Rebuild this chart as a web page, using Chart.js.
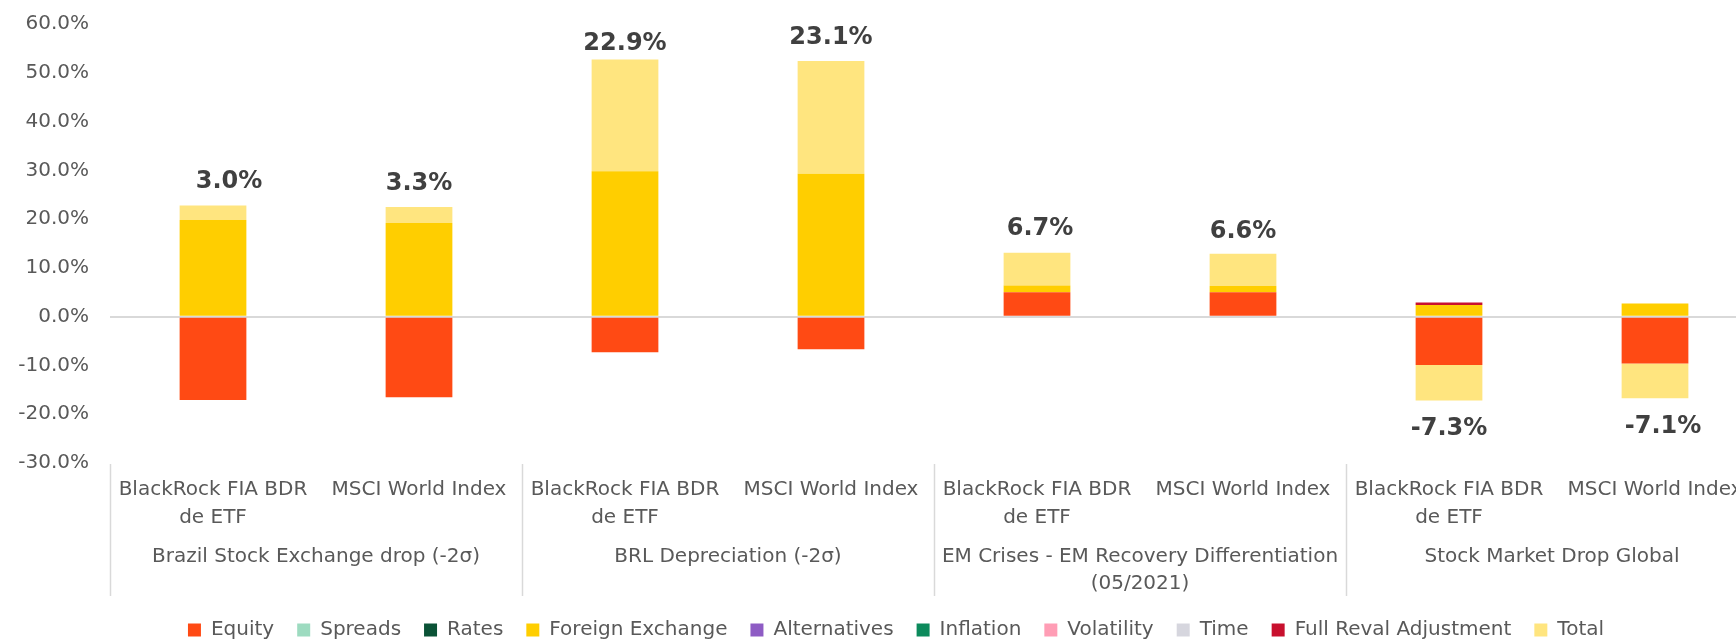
<!DOCTYPE html>
<html><head><meta charset="utf-8">
<script src="https://cdn.jsdelivr.net/npm/chart.js@4.4.1/dist/chart.umd.min.js"></script>
<style>
html,body{margin:0;padding:0;background:#fff;overflow:hidden;}
#wrap{width:1736px;height:640px;overflow:hidden;position:relative;background:#fff;}
canvas{display:block;}
</style></head><body>
<div id="wrap"><canvas id="c" width="1760" height="650"></canvas></div>
<script>
// ---- data ----
const categories = [
  ["BlackRock FIA BDR", "de ETF"], "MSCI World Index",
  ["BlackRock FIA BDR", "de ETF"], "MSCI World Index",
  ["BlackRock FIA BDR", "de ETF"], "MSCI World Index",
  ["BlackRock FIA BDR", "de ETF"], "MSCI World Index"
];
const groups = [
  "Brazil Stock Exchange drop (-2σ)",
  "BRL Depreciation (-2σ)",
  ["EM Crises - EM Recovery Differentiation", "(05/2021)"],
  "Stock Market Drop Global"
];
const seriesNames = ["Equity", "Spreads", "Rates", "Foreign Exchange", "Alternatives",
  "Inflation", "Volatility", "Time", "Full Reval Adjustment", "Total"];
const equity       = [-17.1, -16.5, -7.3, -6.7, 5.0, 5.0, -9.9, -9.6];
const spreads      = [0, 0, 0, 0, 0, 0, 0, 0];
const rates        = [0, 0, 0, 0, 0, 0, 0, 0];
const fx           = [19.8, 19.2, 29.8, 29.3, 1.4, 1.3, 2.4, 2.7];
const alternatives = [0, 0, 0, 0, 0, 0, 0, 0];
const inflation    = [0, 0, 0, 0, 0, 0, 0, 0];
const volatility   = [0, 0, 0, 0, 0, 0, 0, 0];
const time         = [0, 0, 0, 0, 0, 0, 0, 0];
const fullReval    = [0, 0, 0, 0, 0, 0, 0.5, 0];
const total        = [3.0, 3.3, 22.9, 23.1, 6.7, 6.6, -7.3, -7.1];
const yTicks = { min: -30, max: 60, step: 10 };

// ---- styles ----
const colors = ["#ff4a14", "#9ddbc0", "#0a5236", "#ffce00", "#8e5cc4",
  "#0c8a5c", "#ff9db5", "#d6d6de", "#c8102e", "#ffe57f"];
const seriesValues = [equity, spreads, rates, fx, alternatives, inflation, volatility, time, fullReval, total];
const FONT = '"DejaVu Sans", sans-serif';
const GREY = '#595959';

const datasets = seriesNames.map((name, i) => ({
  label: name,
  data: seriesValues[i],
  backgroundColor: colors[i],
  borderWidth: 0,
  barPercentage: 0.324,
  categoryPercentage: 1.0
}));

const groupAxisPlugin = {
  id: 'groupAxis',
  afterLayout(chart) {
    // centre the legend row the way the reference does
    if (chart.legend) { chart.legend.left += 34; }
  },
  afterDraw(chart, args, opts) {
    const ctx = chart.ctx, xs = chart.scales.x, area = chart.chartArea;
    const step = xs.getPixelForValue(1) - xs.getPixelForValue(0);
    ctx.save();
    ctx.strokeStyle = '#d9d9d9';
    ctx.lineWidth = 1.5;
    for (let g = 0; g <= groups.length; g++) {
      const x = Math.round(xs.getPixelForValue(g * 2) - step / 2) + 0.5;
      ctx.beginPath();
      ctx.moveTo(x, area.bottom + 1);
      ctx.lineTo(x, area.bottom + 133);
      ctx.stroke();
    }
    ctx.font = '20px ' + FONT;
    ctx.fillStyle = GREY;
    ctx.textAlign = 'center';
    ctx.textBaseline = 'middle';
    groups.forEach((lab, g) => {
      const x = (xs.getPixelForValue(2 * g) + xs.getPixelForValue(2 * g + 1)) / 2;
      const lines = Array.isArray(lab) ? lab : [lab];
      lines.forEach((ln, k) => ctx.fillText(ln, x, area.bottom + 94 + k * 27));
    });
    ctx.restore();
  }
};

const totalLabelPlugin = {
  id: 'totalLabels',
  afterDatasetsDraw(chart, args, opts) {
    const ctx = chart.ctx;
    const meta = chart.getDatasetMeta(chart.data.datasets.length - 1);
    ctx.save();
    ctx.font = 'bold 24px ' + FONT;
    ctx.fillStyle = '#404040';
    ctx.textAlign = 'center';
    ctx.textBaseline = 'alphabetic';
    meta.data.forEach((el, i) => {
      const v = total[i];
      const n = (opts.nudge && opts.nudge[i]) || [0, 0];
      const cy = v >= 0 ? el.y - 26 : el.y + 26;
      ctx.fillText(v.toFixed(1) + '%', el.x + n[0], cy + n[1] + 8.7);
    });
    ctx.restore();
  }
};

new Chart(document.getElementById('c'), {
  type: 'bar',
  data: { labels: categories, datasets },
  plugins: [groupAxisPlugin, totalLabelPlugin],
  options: {
    responsive: false,
    animation: false,
    devicePixelRatio: 1,
    layout: { padding: { top: 24, left: 0, right: 2, bottom: 0 } },
    plugins: {
      tooltip: { enabled: false },
      totalLabels: { nudge: [[16, 0], [0, 0], [0, 8], [0, 0], [3, 0], [0, 2], [0, 0], [8, 0]] },
      legend: {
        position: 'bottom',
        labels: {
          boxWidth: 13, boxHeight: 13, padding: 23,
          color: GREY, font: { family: FONT, size: 20 }
        }
      }
    },
    scales: {
      x: {
        stacked: true,
        grid: { display: false, drawTicks: false },
        border: { display: false },
        ticks: {
          color: GREY, font: { family: FONT, size: 20, lineHeight: 1.4 },
          padding: 13, maxRotation: 0, minRotation: 0, autoSkip: false
        },
        afterFit(scale) { scale.height = 134; }
      },
      y: {
        stacked: true,
        min: yTicks.min, max: yTicks.max,
        border: { display: false },
        grid: {
          drawTicks: false,
          lineWidth: 2,
          color: (c) => (c.tick && c.tick.value === 0) ? '#d9d9d9' : 'rgba(0,0,0,0)'
        },
        ticks: {
          stepSize: yTicks.step, color: GREY, padding: 21,
          font: { family: FONT, size: 20 },
          callback: (v) => Number(v).toFixed(1) + '%'
        },
        afterFit(scale) { scale.width = 110; scale.paddingTop = 0; scale.paddingBottom = 0; }
      }
    }
  }
});
</script>
</body></html>
